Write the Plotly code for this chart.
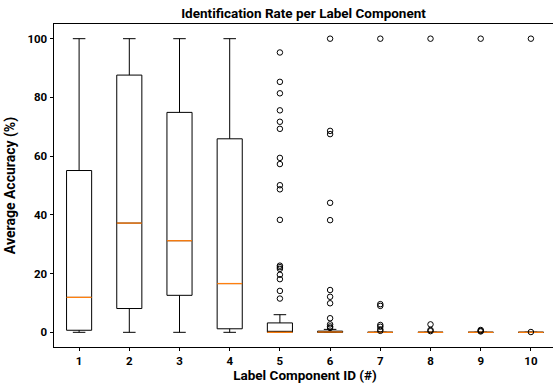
import plotly.graph_objects as go

components = [1, 2, 3, 4, 5, 6, 7, 8, 9, 10]
q1 = [0.7, 8.1, 12.6, 1.2, 0.0, 0.0, 0.0, 0.0, 0.0, 0.0]
median = [11.9, 37.2, 31.2, 16.6, 0.0, 0.1, 0.0, 0.0, 0.0, 0.0]
q3 = [55.1, 87.6, 74.9, 65.9, 3.2, 0.4, 0.0, 0.0, 0.0, 0.0]
lower = [0.0, 0.0, 0.0, 0.0, 0.0, 0.0, 0.0, 0.0, 0.0, 0.0]
upper = [100.0, 100.0, 100.0, 100.0, 6.0, 1.0, 0.0, 0.0, 0.0, 0.0]
outliers = {
    5: [95.3, 85.3, 81.4, 75.6, 71.7, 69.3, 59.4, 57.3, 50.1, 48.7, 38.3,
        22.7, 22.2, 21.6, 19.6, 18.1, 14.1, 11.5],
    6: [100.0, 68.6, 67.5, 44.1, 38.2, 14.4, 12.1, 9.9, 4.8, 2.7, 2.0, 1.5],
    7: [100.0, 9.6, 9.0, 2.5, 1.9, 1.0, 0.5],
    8: [100.0, 2.7, 0.8, 0.4],
    9: [100.0, 0.8, 0.5, 0.3],
    10: [100.0, 0.1],
}
title = "Identification Rate per Label Component"
xlabel = "Label Component ID (#)"
ylabel = "Average Accuracy (%)"

BOX_W = 0.5
font_family = "Roboto, 'DejaVu Sans', sans-serif"

fig = go.Figure()
fig.add_trace(go.Box(
    x=components, q1=q1, median=median, q3=q3,
    lowerfence=lower, upperfence=upper,
    width=BOX_W, whiskerwidth=0.5, boxpoints=False,
    fillcolor="rgba(255,255,255,0)",
    line=dict(color="black", width=1),
    showlegend=False, hoverinfo="skip",
))

# median lines (orange)
mx, my = [], []
for c, m in zip(components, median):
    mx += [c - BOX_W / 2, c + BOX_W / 2, None]
    my += [m, m, None]
fig.add_trace(go.Scatter(x=mx, y=my, mode="lines",
                         line=dict(color="#ff7f0e", width=1.3),
                         showlegend=False, hoverinfo="skip"))

# outliers
ox, oy = [], []
for c, vals in outliers.items():
    ox += [c] * len(vals)
    oy += vals
fig.add_trace(go.Scatter(x=ox, y=oy, mode="markers",
                         marker=dict(symbol="circle-open", size=5.5,
                                     color="black", line=dict(width=1)),
                         showlegend=False, hoverinfo="skip"))

fig.update_layout(
    width=556, height=383,
    margin=dict(l=54, r=0, t=24, b=36, autoexpand=False),
    plot_bgcolor="white", paper_bgcolor="white",
    font=dict(family=font_family, size=11, color="black"),
    title=dict(text=title, x=(303.5 / 556), xanchor="center", y=1 - 13 / 383,
               yanchor="middle", yref="container", automargin=False,
               font=dict(size=13.5, weight="bold", family=font_family)),
)
fig.update_xaxes(
    range=[0.5, 10.5], tickvals=components, ticktext=[str(c) for c in components],
    showline=True, linecolor="black", linewidth=1, mirror=True,
    ticks="outside", ticklen=3, tickcolor="black",
    showgrid=False, zeroline=False, automargin=False,
    tickfont=dict(size=11.5, weight="bold", family=font_family),
    title=dict(text=xlabel, standoff=3,
               font=dict(size=13.5, weight="bold", family=font_family)),
)
fig.update_yaxes(
    range=[-5, 105], tickvals=[0, 20, 40, 60, 80, 100],
    showline=True, linecolor="black", linewidth=1, mirror=False,
    ticks="outside", ticklen=3.5, tickcolor="black",
    showgrid=False, zeroline=False, automargin=False,
    tickfont=dict(size=11.5, weight="bold", family=font_family),
    title=dict(text=ylabel, standoff=8,
               font=dict(size=14, weight="bold", family=font_family)),
)

fig.write_html("out.html", config={"displayModeBar": False},
               post_script="document.body.style.margin='0';document.body.style.overflow='hidden';")
